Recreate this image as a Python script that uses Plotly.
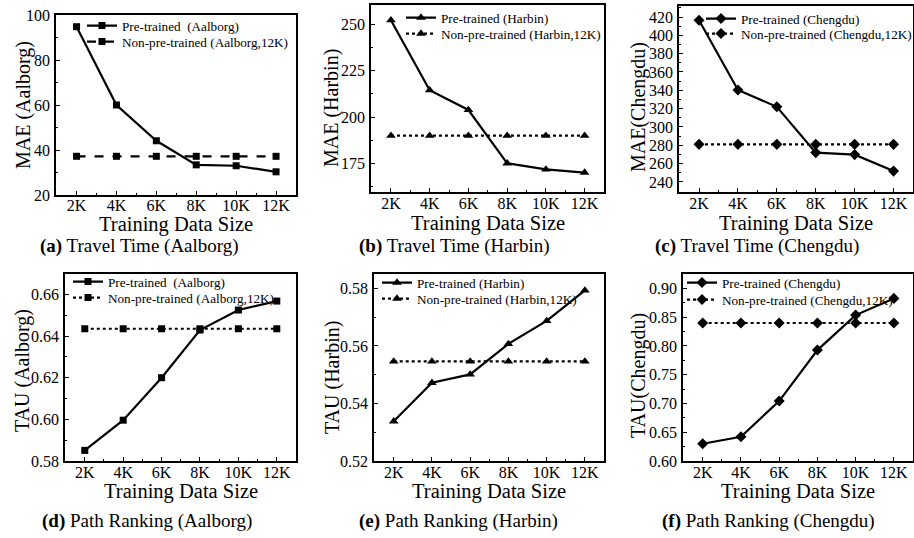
import plotly.graph_objects as go

W, H = 914, 538

sizes = [2, 4, 6, 8, 10, 12]
size_labels = ["2K", "4K", "6K", "8K", "10K", "12K"]
x_title = "Training Data Size"

mae_aalborg_pre = [94.8, 60.0, 44.1, 33.4, 33.0, 30.3]
mae_aalborg_non = [37.2] * 6
mae_harbin_pre = [252.3, 214.5, 203.8, 175.0, 171.7, 170.0]
mae_harbin_non = [189.9] * 6
mae_chengdu_pre = [416.5, 340.4, 322.0, 272.0, 269.8, 251.8]
mae_chengdu_non = [281.0] * 6
tau_aalborg_pre = [0.5851, 0.5996, 0.6200, 0.6429, 0.6525, 0.6568]
tau_aalborg_non = [0.6435] * 6
tau_harbin_pre = [0.5338, 0.5472, 0.5501, 0.5607, 0.5687, 0.5793]
tau_harbin_non = [0.5546] * 6
tau_chengdu_pre = [0.6300, 0.6422, 0.7042, 0.7928, 0.8536, 0.8826]
tau_chengdu_non = [0.8398] * 6

FONT = "Liberation Serif"

panels = [
    dict(pre=mae_aalborg_pre, non=mae_aalborg_non, sym="square", dash="dash",
         n1="Pre-trained  (Aalborg)", n2="Non-pre-trained (Aalborg,12K)",
         ytitle="MAE (Aalborg)", px=(56, 296), py=(15, 195), yr=[20, 100], dt=20, t0=20, mn=10, fmt="",
         yt=(23, 105), xt=225, tls=-5,
         leg=(87, 26, 42), cap="<b>(a)</b> Travel Time (Aalborg)", capx=38, capy=246),
    dict(pre=mae_harbin_pre, non=mae_harbin_non, sym="triangle-up", dash="dot",
         n1="Pre-trained (Harbin)", n2="Non-pre-trained (Harbin,12K)",
         ytitle="MAE (Harbin)", px=(371, 604), py=(5, 192), yr=[159.5, 260.5], dt=25, t0=175, mn=12.5, fmt="",
         yt=(332, 108), xt=223, tls=-4,
         leg=(406, 18, 34), cap="<b>(b)</b> Travel Time (Harbin)", capx=357, capy=246),
    dict(pre=mae_chengdu_pre, non=mae_chengdu_non, sym="diamond", dash="dot",
         n1="Pre-trained (Chengdu)", n2="Non-pre-trained (Chengdu,12K)",
         ytitle="MAE(Chengdu)", px=(679, 913), py=(6, 192), yr=[229, 432], dt=20, t0=240, mn=10, fmt="",
         yt=(638, 107), xt=223, tls=-4,
         leg=(706, 19, 34), cap="<b>(c)</b> Travel Time (Chengdu)", capx=653, capy=246),
    dict(pre=tau_aalborg_pre, non=tau_aalborg_non, sym="square", dash="dot",
         n1="Pre-trained  (Aalborg)", n2="Non-pre-trained (Aalborg,12K)",
         ytitle="TAU (Aalborg)", px=(65, 296), py=(274, 461), yr=[0.58, 0.6698], dt=0.02, t0=0.58, mn=0.01, fmt=".2f",
         yt=(22, 371), xt=491, tls=-4,
         leg=(73, 282, 298), cap="<b>(d)</b> Path Ranking (Aalborg)", capx=40, capy=521),
    dict(pre=tau_harbin_pre, non=tau_harbin_non, sym="triangle-up", dash="dot",
         n1="Pre-trained (Harbin)", n2="Non-pre-trained (Harbin,12K)",
         ytitle="TAU (Harbin)", px=(374, 604), py=(274, 461), yr=[0.52, 0.585], dt=0.02, t0=0.52, mn=0.01, fmt=".2f",
         yt=(332, 378), xt=491, tls=-4,
         leg=(382, 283, 299), cap="<b>(e)</b> Path Ranking (Harbin)", capx=357, capy=521),
    dict(pre=tau_chengdu_pre, non=tau_chengdu_non, sym="diamond", dash="dot",
         n1="Pre-trained (Chengdu)", n2="Non-pre-trained (Chengdu,12K)",
         ytitle="TAU(Chengdu)", px=(683, 913), py=(274, 461), yr=[0.60, 0.925], dt=0.05, t0=0.60, mn=0.025, fmt=".2f",
         yt=(638, 376), xt=491, tls=-4,
         leg=(687, 283, 300), cap="<b>(f)</b> Path Ranking (Chengdu)", capx=660, capy=521),
]

fig = go.Figure()
layout = dict(width=W, height=H, margin=dict(l=0, r=0, t=0, b=0, autoexpand=False),
              plot_bgcolor="white", paper_bgcolor="white",
              font=dict(family=FONT, color="black"), annotations=[])


def ann(text, x, y, size, angle=0, xanchor="center"):
    return dict(text=text, x=x / W, y=1 - y / H, xref="paper", yref="paper", showarrow=False,
                xanchor=xanchor, yanchor="middle", textangle=angle,
                font=dict(size=size, family=FONT, color="black"))


leg_n = 1
for i, p in enumerate(panels):
    k = "" if i == 0 else str(i + 1)
    xa, ya = "x" + k, "y" + k
    msize = 7 if p["sym"] == "square" else 8.5
    for j, (vals, nm, dash) in enumerate([(p["pre"], p["n1"], "solid"), (p["non"], p["n2"], p["dash"])]):
        leg_n += 1
        lg = "legend" + str(leg_n)
        fig.add_trace(go.Scatter(x=sizes, y=vals, mode="lines+markers", name=nm,
                                 xaxis=xa, yaxis=ya, legend=lg, showlegend=True,
                                 line=dict(color="black", width=2.2, dash=dash),
                                 marker=dict(symbol=p["sym"], size=msize, color="black")))
        layout[lg] = dict(x=(p["leg"][0] - 5) / W, y=1 - p["leg"][1 + j] / H,
                          xanchor="left", yanchor="middle",
                          bgcolor="rgba(0,0,0,0)", font=dict(size=13.2, family=FONT),
                          itemwidth=30, borderwidth=0)
    ax = dict(domain=[p["px"][0] / W, p["px"][1] / W], range=[0.97, 13.0],
              tickmode="array", tickvals=sizes, ticktext=size_labels,
              ticks="inside", ticklen=4, tickwidth=1.2, tickcolor="black",
              minor=dict(tickmode="array", tickvals=[3, 5, 7, 9, 11], ticks="inside", ticklen=2.5, tickcolor="black"),
              showline=True, linecolor="black", linewidth=1.8, mirror=True,
              showgrid=False, zeroline=False, anchor=ya, automargin=False,
              ticklabelstandoff=p["tls"],
              tickfont=dict(size=16, family=FONT))
    ay = dict(domain=[1 - p["py"][1] / H, 1 - p["py"][0] / H], range=p["yr"],
              tick0=p["t0"], dtick=p["dt"], tickformat=p["fmt"],
              ticks="inside", ticklen=4, tickwidth=1.2, tickcolor="black",
              minor=dict(dtick=p["mn"], ticks="inside", ticklen=2.5, tickcolor="black"),
              showline=True, linecolor="black", linewidth=1.8, mirror=True,
              showgrid=False, zeroline=False, anchor=xa, ticklabelstandoff=1, automargin=False,
              tickfont=dict(size=16, family=FONT))
    layout["xaxis" + k] = ax
    layout["yaxis" + k] = ay
    layout["annotations"].append(ann(x_title, (p["px"][0] + p["px"][1]) / 2, p["xt"], 20.5))
    layout["annotations"].append(ann(p["ytitle"], p["yt"][0], p["yt"][1], 20, angle=-90))
    layout["annotations"].append(ann(p["cap"], p["capx"], p["capy"], 19, xanchor="left"))

fig.update_layout(**layout)
fig.write_html("out.html")
